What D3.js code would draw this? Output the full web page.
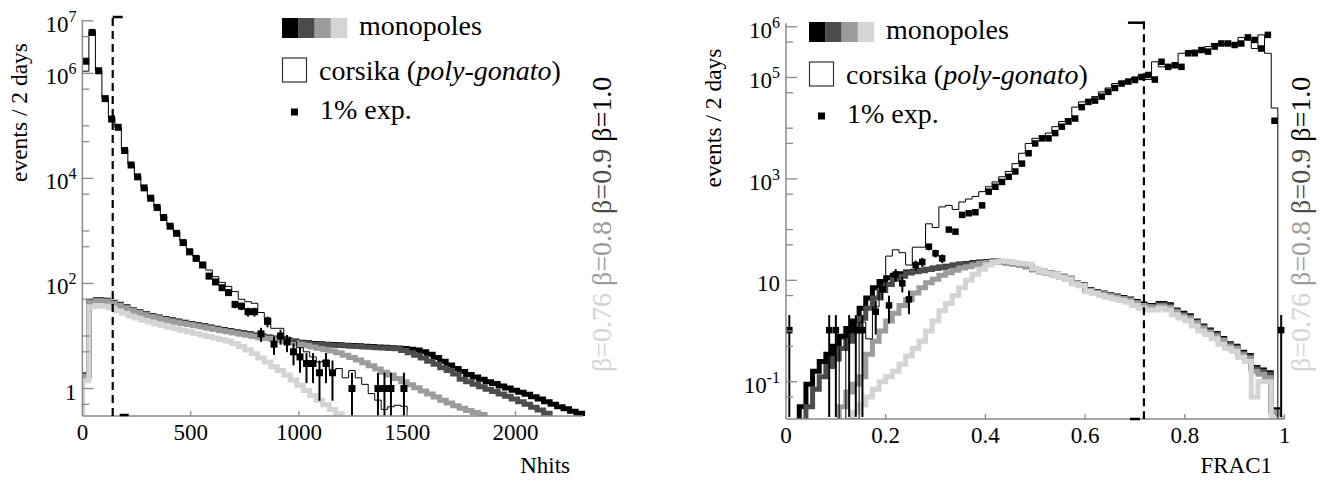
<!DOCTYPE html>
<html>
<head>
<meta charset="utf-8">
<script src="https://cdn.jsdelivr.net/npm/d3@7"></script>
<style>
  body { margin: 0; background: #fff; }
</style>
</head>
<body>
<div id="chart"></div>
<script>
// ---------- data: Nhits panel (bins of 30 hits) ----------
const nhitsBin = 30;
const nhitsBeta100 = [1.8, 46, 49, 48, 44, 40, 36, 32, 29, 26.5,
  24.5, 23, 21.5, 20.3, 19.2, 18.2, 17.3, 16.5, 15.6, 14.8,
  14, 13.3, 12.7, 12.1, 11.5, 11, 10.5, 10, 9.6, 9.2,
  8.8, 8.4, 8.0, 7.6, 7.4, 7.2, 7.1, 7.0, 6.9, 6.8,
  6.7, 6.6, 6.5, 6.4, 6.3, 6.2, 6.1, 6.0, 5.9, 5.8,
  5.6, 5.4, 5.0, 4.5, 3.9, 3.3, 2.8, 2.4, 2.1, 1.85,
  1.65, 1.5, 1.35, 1.25, 1.12, 1.02, 0.93, 0.85, 0.78, 0.7,
  0.63, 0.56, 0.5, 0.45, 0.41, 0.37, 0.34];
const nhitsBeta090 = [1.8, 45, 48, 47, 43, 39, 35, 31.5, 28.5, 26,
  24, 22.5, 21, 19.8, 18.8, 17.8, 17, 16.2, 15.3, 14.5,
  13.7, 13, 12.4, 11.8, 11.2, 10.7, 10.2, 9.8, 9.4, 9.0,
  8.6, 8.2, 7.8, 7.4, 7.2, 7.0, 6.9, 6.8, 6.7, 6.6,
  6.5, 6.4, 6.3, 6.2, 6.1, 6.0, 5.9, 5.8, 5.7, 5.3,
  4.8, 4.3, 3.8, 3.3, 2.9, 2.5, 2.2, 1.9, 1.5, 1.35,
  1.2, 1.08, 0.97, 0.88, 0.79, 0.71, 0.63, 0.56, 0.5, 0.44,
  0.39, 0.34];
const nhitsBeta080 = [1.7, 44, 47, 46, 42, 38.5, 34.5, 31, 28, 25.5,
  23.5, 22, 20.5, 19.3, 18.3, 17.3, 16.5, 15.7, 14.8, 14,
  13.3, 12.6, 12, 11.4, 10.8, 10.3, 9.8, 9.3, 9.0, 8.6,
  8.2, 7.8, 7.4, 7.0, 6.6, 6.2, 5.8, 5.5, 5.2, 4.8,
  4.3, 3.9, 3.5, 3.1, 2.7, 2.35, 2.05, 1.8, 1.55, 1.35,
  1.18, 1.03, 0.9, 0.79, 0.69, 0.6, 0.53, 0.47, 0.42, 0.38,
  0.35, 0.32];
const nhitsBeta076 = [1.4, 36, 38, 37, 34, 30, 27, 24, 22, 20,
  18.5, 17, 15.8, 14.7, 13.7, 12.8, 12, 11.2, 10.5, 9.8,
  9.2, 8.6, 8.0, 7.2, 6.3, 5.4, 4.6, 3.8, 3.2, 2.6,
  2.2, 1.8, 1.45, 1.15, 0.92, 0.74, 0.6, 0.49, 0.4, 0.33];
const nhitsCorsika = [1.1e6, 6.3e6, 1.15e6, 3.4e5, 1.4e5, 9.5e4, 3.5e4, 1.85e4, 1.1e4, 6.8e3,
  4.4e3, 2.9e3, 1.9e3, 1.3e3, 950, 650, 450, 330, 250, 180,
  135, 105, 88, 70, 50, 45, 42, 28, 22, 14,
  14, 9.5, 8, 6, 5, 4, 3.2, 3.5, 2.2, 2.4,
  1.6, 2.2, 1.6, 1.2, 0.8, 0.6, 0.4, 0.45, 0.48, 0.46];
const nhitsExp = [1.7e6, 6.0e6, 1.12e6, 3.3e5, 1.35e5, 9.4e4, 3.4e4, 1.8e4, 1.07e4, 6.6e3,
  4.2e3, 2.8e3, 1.8e3, 1.23e3, 900, 600, 400, 300, 225, 138,
  107, 83, 67, 40, 37, 29, 29, 11, 19, 7,
  10, 7.7, 5, 4, 3, 3, 2, 3, 2, null,
  null, 1, null, null, null, 1, 1, 1, null, 1];
const nhitsTicks = [0, 500, 1000, 1500, 2000];
const nhitsCut = 140;

// ---------- data: FRAC1 panel (75 bins) ----------
const fracBin = 1 / 75;
const fracBeta100 = [null, null, 0.032, 0.089, 0.16, 0.25, 0.35, 0.5, 0.79, 1.12,
  1.58, 2.8, 4.5, 7.1, 9.5, 11.2, 12.6, 13.5, 14.5, 15.1,
  15.8, 16.6, 17.4, 18.2, 19, 20, 20.9, 21.4, 22.4, 22.9,
  23.4, 24, 23.4, 22.4, 21.4, 20.4, 19, 16.6, 15.1, 14.1,
  13.2, 12, 11, 9.1, 8.3, 6.6, 6, 5.6, 5.2, 4.9,
  4.6, 4.3, 3.8, 3.4, 3.2, 3.2, 3.5, 3.3, 2.6, 2.24,
  2, 1.58, 1.26, 1.05, 0.89, 0.71, 0.56, 0.5, 0.38, 0.33,
  0.19, 0.17, 0.15, 0.028, 0];
const fracBeta090 = [null, null, null, 0.032, 0.071, 0.126, 0.2, 0.28, 0.45, 0.63,
  1, 1.78, 2.8, 4.5, 6.3, 8.3, 10.5, 12, 14, 14.8,
  15.5, 16.3, 17, 17.8, 18.6, 19.5, 20.4, 21, 22, 22.5,
  23, 23.5, 23, 22, 21, 20, 18.6, 16.2, 14.8, 13.8,
  12.9, 11.7, 10.7, 8.9, 8.1, 6.4, 5.8, 5.4, 5.0, 4.7,
  4.4, 4.1, 3.6, 3.2, 3.0, 3.0, 3.3, 3.1, 2.5, 2.1,
  1.9, 1.5, 1.2, 1.0, 0.85, 0.68, 0.54, 0.48, 0.36, 0.31,
  0.18, 0.16, 0.14, 0.026, 0];
const fracBeta080 = [null, null, null, null, null, null, null, null, 0.032, 0.063,
  0.089, 0.126, 0.35, 0.63, 1, 1.58, 2.24, 3.2, 4.2, 5.6,
  7.1, 8.9, 10.5, 12.6, 14.1, 15.8, 17.4, 18.6, 20, 21.4,
  22.4, 23, 23, 22, 21, 20, 18.6, 16.2, 14.8, 13.8,
  12.9, 11.7, 10.7, 8.9, 8.1, 6.4, 5.8, 5.4, 5.0, 4.7,
  4.4, 4.1, 3.6, 3.2, 3.0, 2.9, 3.1, 2.9, 2.4, 2.0,
  1.8, 1.45, 1.15, 0.95, 0.8, 0.65, 0.5, 0.45, 0.34, 0.29,
  0.16, 0.14, 0.12, 0.025, 0];
const fracBeta076 = [null, null, null, null, null, null, null, null, null, null,
  0.025, 0.035, 0.05, 0.071, 0.1, 0.126, 0.16, 0.22, 0.32, 0.45,
  0.63, 1, 1.58, 2.5, 3.5, 5, 7.1, 10, 13.2, 16.6,
  20, 22.9, 24, 23.4, 22.4, 21.4, 20.9, 17, 15, 14,
  13, 11.5, 10.5, 8.5, 7.8, 6.0, 5.5, 5.0, 4.6, 4.3,
  4.0, 3.7, 3.2, 2.8, 2.6, 2.6, 2.8, 2.6, 2.1, 1.8,
  1.6, 1.25, 1.0, 0.85, 0.7, 0.55, 0.45, 0.4, 0.3, 0.25,
  0.05, 0.1, 0.1, 0, 0];
const fracCorsika = [null, null, null, null, null, null, null, null, 0.7, 0,
  0, 1.5, 0.7, 3, 6, 30, 40, 35, 20, 45,
  45, 130, 110, 280, 300, 250, 350, 400, 450, 560,
  700, 870, 1100, 1400, 2000, 3200, 5000, 6300, 6300, 8000,
  10700, 13500, 15500, 26000, 33000, 35000, 42000, 52000, 62000, 76000,
  83000, 89000, 102000, 112000, 91000, 204000, 162000, 174000, 162000, 300000,
  300000, 347000, 324000, 407000, 468000, 468000, 437000, 468000, 617000, 550000,
  372000, 692000, 300000, 25000, 0];
const fracExp = [1.04, null, null, null, null, null, 1.04, 1.04, null, 1.04,
  1.04, 1.04, null, 2.4, 6.6, 3.2, 13, 8.7, 4.2, 20,
  23, 46, 34, 27, 100, 91, 195, 210, 220, 300,
  560, 700, 870, 1100, 1400, 2000, 3200, 5000, 6300, 6300,
  8000, 10700, 13500, 15500, 26000, 33000, 35000, 42000, 52000, 62000,
  76000, 83000, 89000, 102000, 112000, 91000, 204000, 162000, 174000, 162000,
  300000, 300000, 347000, 324000, 407000, 468000, 468000, 437000, 468000, 617000,
  550000, 372000, 692000, 14000, 1.04];
const fracTicks = [0, 0.2, 0.4, 0.6, 0.8, 1];
const fracCut = 0.718;

const betaLabels = ["β=0.76", "β=0.8", "β=0.9", "β=1.0"];
const betaColors = ["#d4d4d4", "#9c9c9c", "#4c4c4c", "#000000"];
const legendLabels = ["monopoles", "corsika ", "poly-gonato", "1% exp."];

// ---------- layout ----------
const W = 1323, H = 482;
const serif = "'Liberation Serif', 'DejaVu Serif', serif";
const svg = d3.select("#chart").append("svg")
  .attr("width", W).attr("height", H)
  .attr("font-family", serif)
  .style("background", "#fff");

const panels = [
  {
    id: "nh", bin: nhitsBin,
    monos: [nhitsBeta100, nhitsBeta090, nhitsBeta080, nhitsBeta076],
    corsika: nhitsCorsika, exp: nhitsExp,
    x: d3.scaleLinear().domain([0, 2312]).range([82.4, 583]),
    y: d3.scaleLog().domain([0.3, 1e7]).range([416, 20.8]),
    yTop: 20, xTicks: nhitsTicks, xFmt: d3.format("d"),
    yLabels: [7, 6, 4, 2, 0], title: "Nhits", titleX: 570,
    cut: nhitsCut, cutTop: [0, 10, 17], cutBot: [7, 16, 415],
    legend: [282, 18], betaX: 611, yTitleX: 27, yTitleY: 112.5, markSize: 7
  },
  {
    id: "fr", bin: fracBin,
    monos: [fracBeta100, fracBeta090, fracBeta080, fracBeta076],
    corsika: fracCorsika, exp: fracExp,
    x: d3.scaleLinear().domain([0, 1]).range([786, 1284.5]),
    y: d3.scaleLog().domain([0.0184, 1.17e6]).range([419, 23.3]),
    yTop: 23.3, xTicks: fracTicks, xFmt: d => d === 0 || d === 1 ? d3.format("d")(d) : d3.format(".1f")(d),
    yLabels: [6, 5, 3, 1, -1], title: "FRAC1", titleX: 1272,
    cut: fracCut, cutTop: [-16, 0, 22.7], cutBot: [-14, -4, 419],
    legend: [809, 22], betaX: 1310, yTitleX: 721, yTitleY: 118, markSize: 6.5
  }
];

const axisColor = "#8a8a8a";

function stepPath(vals, p) {
  const bottom = p.y.range()[0];
  const yv = v => (v == null || v <= 0) ? bottom : Math.min(bottom, p.y(v));
  let first = vals.findIndex(v => v != null);
  let d = `M${p.x(first * p.bin)},${bottom}`;
  for (let i = first; i < vals.length; i++) {
    d += `V${yv(vals[i])}H${p.x((i + 1) * p.bin)}`;
  }
  return d + `V${bottom}`;
}

panels.forEach(p => {
  const g = svg.append("g");
  const [x0, x1] = p.x.range();
  const [yb, yt] = p.y.range();

  g.append("clipPath").attr("id", "clip-" + p.id)
    .append("rect").attr("x", x0).attr("y", p.yTop - 5)
    .attr("width", x1 - x0 + 3).attr("height", yb - p.yTop + 5);
  const plot = g.append("g").attr("clip-path", `url(#clip-${p.id})`);

  // monopole histograms: beta=1.0 first, beta=0.76 on top
  p.monos.forEach((vals, i) => {
    plot.append("path").attr("d", stepPath(vals, p))
      .attr("fill", "none").attr("stroke", betaColors[3 - i])
      .attr("stroke-width", 5).attr("stroke-linejoin", "miter");
  });

  // corsika thin histogram
  plot.append("path").attr("d", stepPath(p.corsika, p))
    .attr("fill", "none").attr("stroke", "#000").attr("stroke-width", 1);

  // experimental points with Poisson errors
  const pts = p.exp.map((v, i) => ({ i, v })).filter(d => d.v != null);
  plot.selectAll("line.err").data(pts).enter().append("line")
    .attr("x1", d => p.x((d.i + 0.5) * p.bin)).attr("x2", d => p.x((d.i + 0.5) * p.bin))
    .attr("y1", d => Math.min(yb, d.v - Math.sqrt(d.v) > 0 ? p.y(d.v - Math.sqrt(d.v)) : yb))
    .attr("y2", d => p.y(d.v + Math.sqrt(d.v)))
    .attr("stroke", "#000").attr("stroke-width", 2);
  plot.selectAll("rect.pt").data(pts).enter().append("rect")
    .attr("x", d => p.x((d.i + 0.5) * p.bin) - p.markSize / 2)
    .attr("y", d => p.y(d.v) - p.markSize / 2)
    .attr("width", p.markSize).attr("height", p.markSize).attr("fill", "#000");

  // axes
  g.append("line").attr("x1", x0).attr("x2", x0).attr("y1", p.yTop).attr("y2", yb)
    .attr("stroke", axisColor).attr("stroke-width", 1.5);
  g.append("line").attr("x1", x0).attr("x2", x1).attr("y1", yb).attr("y2", yb)
    .attr("stroke", axisColor).attr("stroke-width", 1.5);

  // y ticks: decades (labelled ones longer) and 5x decades
  const [lo, hi] = p.y.domain();
  const ticks = [];
  for (let e = Math.floor(Math.log10(lo)); e <= Math.ceil(Math.log10(hi)); e++) {
    [1, 5].forEach(m => {
      const v = m * Math.pow(10, e);
      if (v >= lo && v <= hi * 1.001) ticks.push({ v, major: m === 1 && p.yLabels.includes(e) });
    });
  }
  g.selectAll("line.yt").data(ticks).enter().append("line")
    .attr("x1", x0).attr("x2", d => x0 + (d.major ? 11 : 7))
    .attr("y1", d => p.y(d.v)).attr("y2", d => p.y(d.v))
    .attr("stroke", axisColor).attr("stroke-width", 1.3);

  p.yLabels.forEach(e => {
    const t = g.append("text").attr("x", x0 - 6).attr("y", p.y(Math.pow(10, e)) + 11)
      .attr("text-anchor", "end").attr("font-size", 23).attr("fill", "#000");
    if (e === 0) t.text("1");
    else if (e === 1) t.text("10");
    else {
      t.append("tspan").text("10");
      t.append("tspan").attr("dy", -10).attr("font-size", 16).text(e < 0 ? "-" + (-e) : e);
    }
  });

  // x ticks (pointing up) and labels
  g.selectAll("line.xt").data(p.xTicks.filter(d => d > 0)).enter().append("line")
    .attr("x1", d => p.x(d)).attr("x2", d => p.x(d))
    .attr("y1", yb).attr("y2", yb - 5)
    .attr("stroke", axisColor).attr("stroke-width", 1.3);
  g.selectAll("text.xl").data(p.xTicks).enter().append("text")
    .attr("x", d => p.x(d)).attr("y", yb + 24)
    .attr("text-anchor", "middle").attr("font-size", 23)
    .text(p.xFmt);
  g.append("text").attr("x", p.titleX).attr("y", 473).attr("text-anchor", "end")
    .attr("font-size", 23).text(p.title);

  g.append("text").attr("transform", `translate(${p.yTitleX},${p.yTitleY}) rotate(-90)`)
    .attr("text-anchor", "middle").attr("font-size", 23.5).text("events / 2 days");

  // cut line with small direction marks
  const xc = p.x(p.cut);
  g.append("line").attr("x1", xc).attr("x2", xc).attr("y1", p.yTop - 2).attr("y2", yb)
    .attr("stroke", "#000").attr("stroke-width", 2.2).attr("stroke-dasharray", "8,5");
  [p.cutTop, p.cutBot].forEach(c => {
    g.append("line").attr("x1", xc + c[0]).attr("x2", xc + c[1]).attr("y1", c[2]).attr("y2", c[2])
      .attr("stroke", "#000").attr("stroke-width", 2.5);
  });

  // legend
  const [lx, ly] = p.legend;
  const lg = g.append("g").attr("transform", `translate(${lx},${ly})`);
  betaColors.slice().reverse().forEach((c, i) => {
    lg.append("rect").attr("x", i * 16.25).attr("y", 0).attr("width", 16.5).attr("height", 20).attr("fill", c);
  });
  lg.append("text").attr("x", 77).attr("y", 17).attr("font-size", 28).text(legendLabels[0]);
  lg.append("rect").attr("x", 0.5).attr("y", 40).attr("width", 24).attr("height", 24)
    .attr("fill", "#fff").attr("stroke", "#333").attr("stroke-width", 1.2);
  const ct = lg.append("text").attr("x", 37).attr("y", 62).attr("font-size", 28);
  ct.append("tspan").text(legendLabels[1] + "(");
  ct.append("tspan").attr("font-style", "italic").text(legendLabels[2]);
  ct.append("tspan").text(")");
  lg.append("rect").attr("x", 9).attr("y", 90.5).attr("width", 7).attr("height", 7).attr("fill", "#000");
  lg.append("text").attr("x", 38).attr("y", 101).attr("font-size", 28).text(legendLabels[3]);

  // rotated beta labels
  const bt = g.append("text").attr("transform", `translate(${p.betaX},372) rotate(-90)`)
    .attr("font-size", 28);
  betaLabels.forEach((b, i) => {
    bt.append("tspan").attr("fill", betaColors[i]).text((i ? " " : "") + b);
  });
});
</script>
</body>
</html>
